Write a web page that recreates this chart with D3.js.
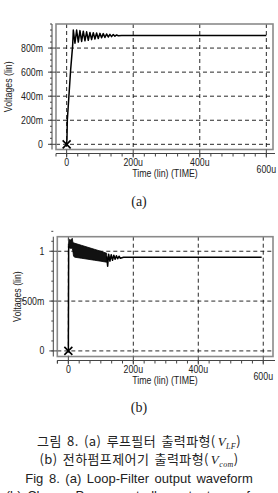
<!DOCTYPE html>
<html>
<head>
<meta charset="utf-8">
<script src="https://cdnjs.cloudflare.com/ajax/libs/d3/7.8.5/d3.min.js"></script>
<style>
    body { margin: 0; background: #fff; }
    svg { display: block; }
    .tick-label { font-family: "Liberation Sans", Arial, sans-serif; font-size: 10px; fill: #222; }
    .cap-kr { font-family: "Noto Sans CJK KR", sans-serif; font-size: 13px; fill: #222; letter-spacing: 0.4px; word-spacing: 2px; }
    .cap-en { font-family: "Liberation Sans", Arial, sans-serif; font-size: 13px; fill: #222; word-spacing: 2px; }
    .math { font-family: "Liberation Serif", serif; font-style: italic; }
</style>
</head>
<body>
<script>
// (a) loop filter output, time in u, volts
const timesA = [0, 1, 2, 12, 18, 20, 25, 30, 35, 40, 45, 50, 55, 60, 65, 70, 75, 80, 85, 90, 95, 100,
    105, 110, 115, 120, 125, 130, 135, 140, 145, 150, 155, 165, 600];
const voltsA = [0, 0.05, 0.2, 0.62, 0.82, 0.95, 0.84, 0.95, 0.85, 0.945, 0.855, 0.94, 0.86, 0.935, 0.865, 0.93, 0.87, 0.928, 0.875, 0.925, 0.88, 0.922,
    0.885, 0.92, 0.888, 0.917, 0.892, 0.914, 0.895, 0.912, 0.898, 0.909, 0.902, 0.905, 0.905];

// (b) charge pump controller output
const riseTimesB = [0, 1];
const riseVoltsB = [0, 1.05];
const bandTimesB = [1, 4, 8, 12, 14, 16, 20, 40, 60, 80, 100, 118];
const bandUpperB = [1.10, 1.12, 1.11, 1.13, 1.09, 1.085, 1.08, 1.06, 1.04, 1.02, 1.0, 0.98];
const bandLowerB = [1.04, 1.03, 1.03, 1.03, 1.0, 0.95, 0.94, 0.93, 0.92, 0.91, 0.90, 0.89];
const tailTimesB = [118, 121, 124, 128, 132, 136, 140, 144, 148, 152, 156, 160, 170, 595];
const tailVoltsB = [0.95, 0.85, 0.97, 0.90, 0.965, 0.91, 0.96, 0.92, 0.955, 0.925, 0.95, 0.93, 0.94, 0.94];

const xTicks = [0, 200, 400, 600];
const xTickLabels = ["0", "200u", "400u", "600u"];
const yTicksA = [0, 0.2, 0.4, 0.6, 0.8];
const yTickLabelsA = ["0", "200m", "400m", "600m", "800m"];
const yTicksB = [0, 0.5, 1];
const yTickLabelsB = ["0", "500m", "1"];

const W = 278, H = 493;
const svg = d3.select("body").append("svg").attr("width", W).attr("height", H);
svg.append("rect").attr("width", W).attr("height", H).attr("fill", "#fff");

// condensed look of the waveform viewer font
const squeeze = 0.88;

function panel(p) {
    const g = svg.append("g");
    const x = p.x, y = p.y;
    const [x0, x1] = x.range();
    const [y0, y1] = y.range(); // y0 bottom, y1 top

    // dashed grid
    g.selectAll(".vg").data(xTicks).join("line")
        .attr("x1", d => x(d)).attr("x2", d => x(d)).attr("y1", y1).attr("y2", y0)
        .attr("stroke", "#111").attr("stroke-width", 0.9).attr("stroke-dasharray", "4,3");
    g.selectAll(".hg").data(p.yTicks).join("line")
        .attr("x1", x0).attr("x2", x1).attr("y1", d => y(d)).attr("y2", d => y(d))
        .attr("stroke", "#111").attr("stroke-width", 0.9).attr("stroke-dasharray", "4,3");

    // frame
    g.append("rect").attr("x", x0).attr("y", y1).attr("width", x1 - x0).attr("height", y0 - y1)
        .attr("fill", "none").attr("stroke", "#8a8a8a").attr("stroke-width", 1.6);

    // y axis line outside the frame
    const ax = x0 - 4;
    g.append("line").attr("x1", ax).attr("x2", ax).attr("y1", y1).attr("y2", y0)
        .attr("stroke", "#444").attr("stroke-width", 1);
    g.selectAll(".ymin").data(d3.range(y.domain()[0], y.domain()[1], p.yMinor).map(v => Math.ceil(v / p.yMinor) * p.yMinor))
        .join("line").attr("x1", ax - 2).attr("x2", ax).attr("y1", d => y(d)).attr("y2", d => y(d))
        .attr("stroke", "#444").attr("stroke-width", 1);
    g.selectAll(".ymaj").data(p.yTicks).join("line")
        .attr("x1", ax - 4).attr("x2", x0).attr("y1", d => y(d)).attr("y2", d => y(d))
        .attr("stroke", "#444").attr("stroke-width", 1);
    g.selectAll(".ylab").data(p.yTicks).join("text").attr("class", "tick-label")
        .attr("transform", d => `translate(${ax - 9},${y(d)}) scale(${squeeze},1)`)
        .attr("dy", "0.35em").attr("text-anchor", "end")
        .text((d, i) => p.yLabels[i]);
    g.append("text").attr("class", "tick-label")
        .attr("transform", `translate(${p.yTitleX},${(y0 + y1) / 2}) rotate(-90) scale(${squeeze},1)`)
        .attr("text-anchor", "middle").attr("dy", "0.35em").text("Voltages (lin)");

    // x axis line below the frame
    const ay = y0 + 4;
    g.append("line").attr("x1", x0).attr("x2", x1 + 2).attr("y1", ay).attr("y2", ay)
        .attr("stroke", "#444").attr("stroke-width", 1);
    const minorX = d3.range(-1, 19).map(i => i * 200 / 6).filter(v => x(v) >= x0 && x(v) <= x1 + 2);
    g.selectAll(".xmin").data(minorX).join("line")
        .attr("x1", d => x(d)).attr("x2", d => x(d)).attr("y1", ay).attr("y2", ay + 3)
        .attr("stroke", "#444").attr("stroke-width", 1);
    g.selectAll(".xmaj").data(xTicks).join("line")
        .attr("x1", d => x(d)).attr("x2", d => x(d)).attr("y1", y0).attr("y2", ay + 4)
        .attr("stroke", "#444").attr("stroke-width", 1);
    g.append("line").attr("x1", x0).attr("x2", x0).attr("y1", ay).attr("y2", ay + 3)
        .attr("stroke", "#444");
    g.selectAll(".xlab").data(xTicks).join("text").attr("class", "tick-label")
        .attr("transform", (d, i) => `translate(${x(d)},${ay + (i === 3 ? 19 : 12.5)}) scale(${squeeze},1)`)
        .attr("text-anchor", "middle").text((d, i) => xTickLabels[i]);
    g.append("text").attr("class", "tick-label")
        .attr("transform", `translate(165,${ay + 23.5}) scale(${squeeze},1)`)
        .attr("text-anchor", "middle").text("Time (lin) (TIME)");

    // start marker
    const cx = x(0), cy = y(0);
    g.append("path").attr("d", `M${cx - 4},${cy - 4}L${cx + 4},${cy + 4}M${cx - 4},${cy + 4}L${cx + 4},${cy - 4}`)
        .attr("stroke", "#000").attr("stroke-width", 1.6);
    return g;
}

// panel (a)
const xA = d3.scaleLinear().domain([-32, 620]).range([56, 273]);
const yA = d3.scaleLinear().domain([-0.043, 1.0]).range([149.5, 24]);
const gA = panel({ x: xA, y: yA, yTicks: yTicksA, yLabels: yTickLabelsA, yMinor: 0.05, yTitleX: 8 });
gA.append("path").datum(timesA.map((t, i) => [t, voltsA[i]]))
    .attr("d", d3.line().x(d => xA(d[0])).y(d => yA(d[1])))
    .attr("fill", "none").attr("stroke", "#000").attr("stroke-width", 1.5).attr("stroke-linejoin", "round");

// panel (b)
const xB = d3.scaleLinear().domain([-34, 630]).range([57.3, 273]);
const yB = d3.scaleLinear().domain([-0.056, 1.146]).range([356.5, 236.7]);
const gB = panel({ x: xB, y: yB, yTicks: yTicksB, yLabels: yTickLabelsB, yMinor: 0.1, yTitleX: 17 });
const lineB = d3.line().x(d => xB(d[0])).y(d => yB(d[1]));
gB.append("path").datum(bandTimesB.map((t, i) => [t, bandUpperB[i], bandLowerB[i]]))
    .attr("d", d3.area().x(d => xB(d[0])).y0(d => yB(d[2])).y1(d => yB(d[1])))
    .attr("fill", "#111").attr("stroke", "#000").attr("stroke-width", 0.8);
gB.append("path").datum(riseTimesB.map((t, i) => [t, riseVoltsB[i]]))
    .attr("d", lineB).attr("fill", "none").attr("stroke", "#000").attr("stroke-width", 1.5);
gB.append("path").datum(tailTimesB.map((t, i) => [t, tailVoltsB[i]]))
    .attr("d", lineB).attr("fill", "none").attr("stroke", "#000").attr("stroke-width", 1.5).attr("stroke-linejoin", "round");

// sub-figure labels
svg.append("text").attr("x", 139).attr("y", 206).attr("text-anchor", "middle")
    .style("font-family", "'Liberation Serif', serif").style("font-size", "14px").attr("fill", "#222").text("(a)");
svg.append("text").attr("x", 139).attr("y", 412).attr("text-anchor", "middle")
    .style("font-family", "'Liberation Serif', serif").style("font-size", "14px").attr("fill", "#222").text("(b)");

// caption
function mathCaption(yPos, pre, sub) {
    const t = svg.append("text").attr("class", "cap-kr").attr("x", 139).attr("y", yPos).attr("text-anchor", "middle");
    t.append("tspan").text(pre);
    t.append("tspan").attr("class", "math").attr("dx", 2).text("V");
    t.append("tspan").attr("class", "math").attr("font-size", "8px").attr("dy", 3).text(sub);
    t.append("tspan").attr("dy", -3).text(")");
}
mathCaption(445.5, "그림 8. (a) 루프필터 출력파형(", "LF");
mathCaption(463.5, "(b) 전하펌프제어기 출력파형(", "com");
svg.append("text").attr("class", "cap-en").attr("x", 139).attr("y", 482.5).attr("text-anchor", "middle")
    .text("Fig 8. (a) Loop-Filter output waveform");
svg.append("text").attr("class", "cap-en").attr("x", 139).attr("y", 500).attr("text-anchor", "middle")
    .text("(b) Charge Pump controller output waveform");
</script>
</body>
</html>
